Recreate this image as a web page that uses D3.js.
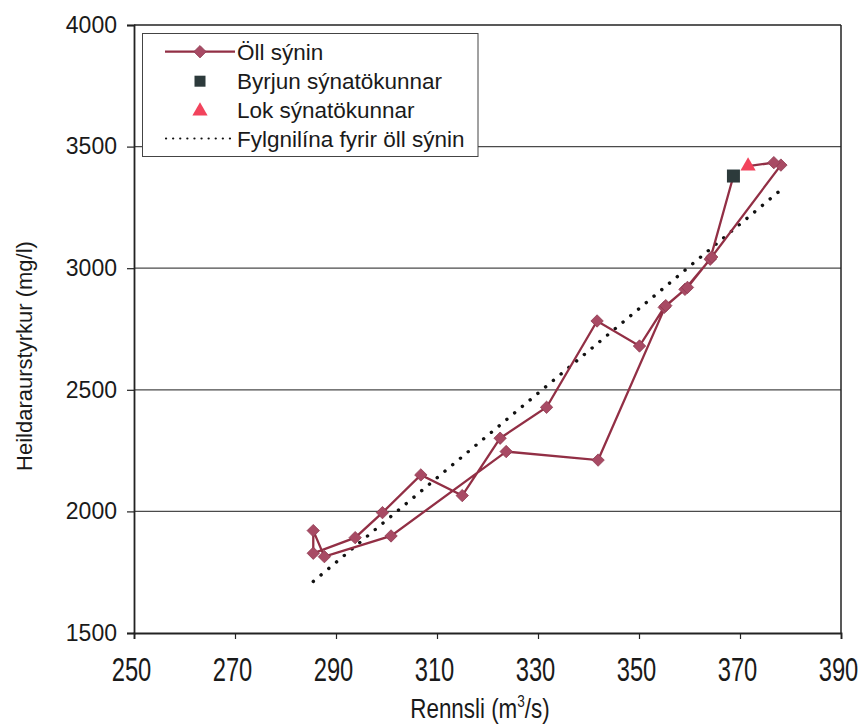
<!DOCTYPE html>
<html>
<head>
<meta charset="utf-8">
<script src="https://cdn.jsdelivr.net/npm/d3@7"></script>
<style>
  html, body { margin: 0; padding: 0; background: #fff; }
  svg { display: block; }
  text { font-family: "Liberation Sans", Arial, sans-serif; fill: #1a1a1a; }
</style>
</head>
<body>
<svg id="chart" width="862" height="724"></svg>
<script>
// Flow (m3/s) and total dissolved solids (mg/l), in sampling order
const flow = [368.7, 364.1, 359.1, 355.0, 350.1, 341.7, 331.7, 322.5, 315.0, 306.8,
              299.2, 293.8, 285.5, 285.5, 287.7, 300.9, 323.7, 341.9, 355.3, 359.6,
              364.4, 378.1, 376.7, 371.6];
const tds  = [3379, 3037, 2913, 2839, 2680, 2783, 2428, 2301, 2065, 2150,
              1995, 1892, 1828, 1921, 1814, 1899, 2246, 2211, 2846, 2921,
              3046, 3424, 3434, 3420];

// Trend line endpoints for all samples
const trendFlow = [285.5, 378.1];
const trendTds  = [1712, 3322];

const xTicks = [250, 270, 290, 310, 330, 350, 370, 390];
const yTicks = [1500, 2000, 2500, 3000, 3500, 4000];

const legendLabels = ["Öll sýnin", "Byrjun sýnatökunnar", "Lok sýnatökunnar", "Fylgnilína fyrir öll sýnin"];

const lineColor = "#922f45";
const diamondColor = "#a84a64";
const startColor = "#2c3a3b";
const endColor = "#f2435c";

const svg = d3.select("#chart");
const x = d3.scaleLinear().domain([250, 390]).range([134, 841]);
const y = d3.scaleLinear().domain([1500, 4000]).range([633, 25]);

const samples = flow.map((f, i) => ({ f, v: tds[i] }));

// Horizontal gridlines
svg.append("g").selectAll("line")
  .data(yTicks.filter(t => t > 1500 && t < 4000))
  .join("line")
  .attr("x1", x(250)).attr("x2", x(390))
  .attr("y1", d => y(d)).attr("y2", d => y(d))
  .attr("stroke", "#4a4a4a").attr("stroke-width", 1.2);

// Frame top and right
svg.append("line").attr("x1", x(250)).attr("x2", x(390)).attr("y1", y(4000)).attr("y2", y(4000))
  .attr("stroke", "#222").attr("stroke-width", 1.5);
svg.append("line").attr("x1", x(390)).attr("x2", x(390)).attr("y1", y(4000)).attr("y2", y(1500))
  .attr("stroke", "#222").attr("stroke-width", 1.5);

// Y axis
const yAxis = svg.append("g").attr("transform", `translate(${x(250)},0)`)
  .call(d3.axisLeft(y).tickValues(yTicks).tickSize(7).tickPadding(10).tickFormat(d3.format("d")));
yAxis.select(".domain").attr("stroke", "#222").attr("stroke-width", 1.8);
yAxis.selectAll(".tick line").attr("stroke", "#222").attr("stroke-width", 1.2);
yAxis.selectAll(".tick text").style("font-size", "23px").style("font-family", "Liberation Sans, Arial, sans-serif").attr("fill", "#1a1a1a");

// X axis (condensed labels)
const xAxis = svg.append("g").attr("transform", `translate(0,${y(1500)})`)
  .call(d3.axisBottom(x).tickValues(xTicks).tickSize(6).tickFormat(d3.format("d")));
xAxis.select(".domain").attr("stroke", "#222").attr("stroke-width", 1.8);
xAxis.selectAll(".tick line").attr("stroke", "#222").attr("stroke-width", 1.2);
xAxis.selectAll(".tick text")
  .attr("y", 0).attr("dy", 0)
  .attr("transform", "translate(-3,48) scale(0.72,1)")
  .style("font-size", "33px").style("font-family", "Liberation Sans, Arial, sans-serif").attr("fill", "#1a1a1a");

// Axis titles
const xt = svg.append("text")
  .attr("transform", `translate(480,718) scale(0.8,1)`)
  .attr("text-anchor", "middle").style("font-size", "28px");
xt.append("tspan").text("Rennsli (m");
xt.append("tspan").attr("dy", -11).style("font-size", "17px").text("3");
xt.append("tspan").attr("dy", 11).text("/s)");

svg.append("text")
  .attr("transform", "translate(32,356) rotate(-90)")
  .attr("text-anchor", "middle").style("font-size", "22px")
  .text("Heildaraurstyrkur (mg/l)");

// Trend line
svg.append("line")
  .attr("x1", x(trendFlow[0])).attr("y1", y(trendTds[0]))
  .attr("x2", x(trendFlow[1])).attr("y2", y(trendTds[1]))
  .attr("stroke", "#111").attr("stroke-width", 3.4)
  .attr("stroke-dasharray", "0.1,10").attr("stroke-linecap", "round");

// Sample path
svg.append("path")
  .datum(samples)
  .attr("d", d3.line().x(d => x(d.f)).y(d => y(d.v)))
  .attr("fill", "none").attr("stroke", lineColor).attr("stroke-width", 2.3);

const diamond = d3.symbol().type(d3.symbolDiamond2).size(98);
svg.append("g").selectAll("path")
  .data(samples.slice(1, -1))
  .join("path")
  .attr("d", diamond)
  .attr("transform", d => `translate(${x(d.f)},${y(d.v)})`)
  .attr("fill", diamondColor).attr("stroke", "#8e3a50").attr("stroke-width", 0.8);

// Start and end markers
const first = samples[0], last = samples[samples.length - 1];
svg.append("rect")
  .attr("x", x(first.f) - 6.5).attr("y", y(first.v) - 6.5)
  .attr("width", 13).attr("height", 13).attr("fill", startColor);
svg.append("path")
  .attr("d", d3.symbol().type(d3.symbolTriangle).size(100))
  .attr("transform", `translate(${x(last.f)},${y(last.v)})`)
  .attr("fill", endColor);

// Legend
const lg = svg.append("g");
lg.append("rect").attr("x", 142.5).attr("y", 33.5).attr("width", 335.5).attr("height", 123)
  .attr("fill", "#fff").attr("stroke", "#444").attr("stroke-width", 1);
const rowY = [51.7, 81.2, 110, 138.5];
lg.append("line").attr("x1", 165).attr("x2", 235).attr("y1", rowY[0]).attr("y2", rowY[0])
  .attr("stroke", lineColor).attr("stroke-width", 2.3);
lg.append("path").attr("d", diamond).attr("transform", `translate(200,${rowY[0]})`)
  .attr("fill", diamondColor).attr("stroke", "#8e3a50").attr("stroke-width", 0.8);
lg.append("rect").attr("x", 194.5).attr("y", rowY[1] - 5.5).attr("width", 11).attr("height", 11).attr("fill", startColor);
lg.append("path").attr("d", d3.symbol().type(d3.symbolTriangle).size(100))
  .attr("transform", `translate(200,${rowY[2] + 1})`).attr("fill", endColor);
lg.append("line").attr("x1", 166).attr("x2", 230).attr("y1", rowY[3]).attr("y2", rowY[3])
  .attr("stroke", "#111").attr("stroke-width", 2.2)
  .attr("stroke-dasharray", "0.1,7").attr("stroke-linecap", "round");
lg.selectAll("text.lbl").data(legendLabels).join("text")
  .attr("class", "lbl")
  .attr("x", 237).attr("y", (d, i) => rowY[i]).attr("dy", "0.36em")
  .style("font-size", "22.5px").text(d => d);
</script>
</body>
</html>
